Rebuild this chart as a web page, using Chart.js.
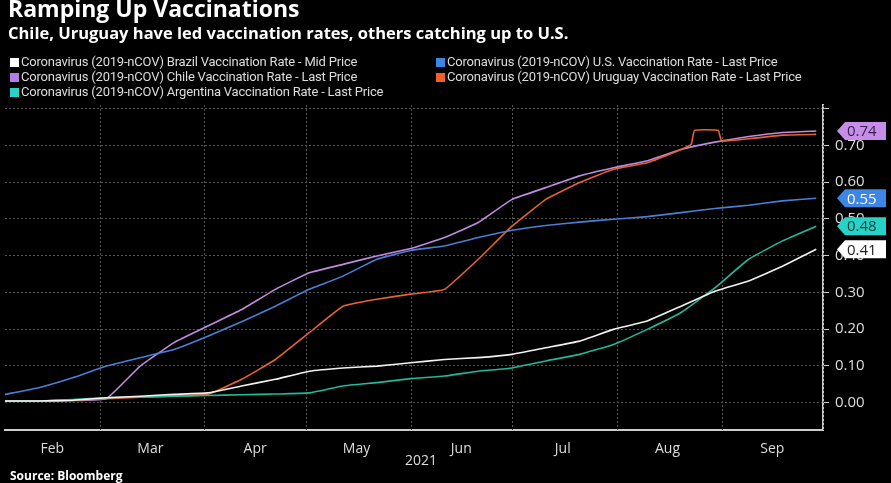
<!DOCTYPE html>
<html>
<head>
<meta charset="utf-8">
<script src="https://cdn.jsdelivr.net/npm/chart.js@4"></script>
<style>
  body { margin:0; background:#000; width:891px; height:483px; overflow:hidden; position:relative; font-family:"Open Sans", sans-serif; }
  #wrap { position:absolute; left:0; top:0; width:891px; height:483px; }
  .t1 { position:absolute; left:8px; top:-8px; color:#fff; font:bold 23px "Open Sans", sans-serif; }
  .t2 { position:absolute; left:8px; top:21px; color:#fff; font:bold 16.5px "Open Sans", sans-serif; }
  .lg { position:absolute; color:#ddd; font:13px "Liberation Sans Narrow", "Roboto", sans-serif; letter-spacing:-0.2px; white-space:nowrap; }
  .lg i { display:inline-block; width:9px; height:9px; margin-right:2px; vertical-align:-1px; }
  .yr { position:absolute; left:405px; top:450px; color:#ddd; font:14px "Open Sans", sans-serif; }
  .src { position:absolute; left:10px; top:467px; color:#fff; font:bold 12px "Open Sans", sans-serif; }
</style>
</head>
<body>
<div id="wrap"><canvas id="myChart" width="891" height="483"></canvas></div>
<div class="t1">Ramping Up Vaccinations</div>
<div class="t2">Chile, Uruguay have led vaccination rates, others catching up to U.S.</div>
<div class="lg" style="left:10px;top:54px"><i style="background:#fff"></i>Coronavirus (2019-nCOV) Brazil Vaccination Rate - Mid Price</div>
<div class="lg" style="left:436px;top:54px"><i style="background:#3d86e6"></i>Coronavirus (2019-nCOV) U.S. Vaccination Rate - Last Price</div>
<div class="lg" style="left:10px;top:69px"><i style="background:#b57ce6"></i>Coronavirus (2019-nCOV) Chile Vaccination Rate - Last Price</div>
<div class="lg" style="left:436px;top:69px"><i style="background:#f0602a"></i>Coronavirus (2019-nCOV) Uruguay Vaccination Rate - Last Price</div>
<div class="lg" style="left:10px;top:84px"><i style="background:#27d3c8"></i>Coronavirus (2019-nCOV) Argentina Vaccination Rate - Last Price</div>
<div class="yr">2021</div>
<div class="src">Source: Bloomberg</div>
<script>
// days since Feb 1 2021
var days = [0,10,20,30,40,50,60,70,80,90,100,110,120,130,140,150,160,170,180,190,200,210,220,230,240];
var usRate =       [0.022,0.040,0.067,0.099,0.122,0.144,0.180,0.220,0.262,0.308,0.344,0.390,0.414,0.426,0.449,0.469,0.482,0.491,0.499,0.506,0.517,0.528,0.537,0.549,0.556];
var chileRate =    [0.004,0.004,0.005,0.010,0.099,0.163,0.208,0.253,0.308,0.353,0.376,0.399,0.419,0.449,0.490,0.553,0.585,0.617,0.639,0.658,0.689,0.709,0.724,0.735,0.739];
var brazilRate =   [0.004,0.004,0.006,0.013,0.017,0.022,0.026,0.045,0.063,0.085,0.094,0.099,0.108,0.117,0.122,0.131,0.149,0.167,0.199,0.222,0.262,0.303,0.331,0.371,0.417];
var argentinaRate =[0.004,0.004,0.008,0.013,0.015,0.017,0.019,0.021,0.023,0.026,0.045,0.054,0.065,0.072,0.085,0.094,0.113,0.131,0.158,0.199,0.245,0.312,0.390,0.440,0.480];
var uruguayDays = [0,10,20,30,40,50,60,70,80,90,100,110,120,130,140,150,160,170,180,190,200,203,204,211,212,220,230,240];
var uruguayRate = [0.004,0.004,0.006,0.010,0.014,0.018,0.022,0.063,0.117,0.190,0.262,0.281,0.295,0.308,0.390,0.480,0.553,0.599,0.635,0.653,0.689,0.703,0.741,0.741,0.712,0.718,0.728,0.730];
var monthStarts = [28,59,89,120,150,181,212,242];
var monthMids = [14,43,74,104,135,165,196,227];
var monthNames = ["Feb","Mar","Apr","May","Jun","Jul","Aug","Sep"];
var yTicks = [0,0.1,0.2,0.3,0.4,0.5,0.6,0.7,0.8];

function pts(xs, ys) { return xs.map(function (x, i) { return {x: x, y: ys[i]}; }); }

var tags = [
  {val: chileRate[chileRate.length-1], bg: "#c68ee8", fg: "#3a2050", txt: "0.74"},
  {val: usRate[usRate.length-1], bg: "#3d86e6", fg: "#fff", txt: "0.55"},
  {val: argentinaRate[argentinaRate.length-1], bg: "#27d3c8", fg: "#0d3d3a", txt: "0.48"},
  {val: brazilRate[brazilRate.length-1], bg: "#fff", fg: "#222", txt: "0.41"}
];

var extras = {
  id: "extras",
  beforeDatasetsDraw: function (chart) {
    var c = chart.ctx, a = chart.chartArea, xs = chart.scales.x;
    c.save();
    c.strokeStyle = "#555"; c.lineWidth = 1; c.setLineDash([2,2]);
    monthStarts.forEach(function (d) {
      var px = Math.round(xs.getPixelForValue(d)) + 0.5;
      c.beginPath(); c.moveTo(px, a.top); c.lineTo(px, a.bottom); c.stroke();
    });
    c.restore();
  },
  afterDraw: function (chart) {
    var c = chart.ctx, ys = chart.scales.y;
    c.save();
    c.font = "15px 'Open Sans', sans-serif";
    c.textBaseline = "middle";
    tags.forEach(function (t) {
      var py = ys.getPixelForValue(t.val);
      c.fillStyle = t.bg;
      c.beginPath();
      c.moveTo(837, py); c.lineTo(845, py - 9); c.lineTo(886, py - 9);
      c.lineTo(886, py + 9); c.lineTo(845, py + 9); c.closePath(); c.fill();
      c.fillStyle = t.fg;
      c.fillText(t.txt, 847, py + 1);
    });
    c.restore();
  }
};

new Chart("myChart", {
  type: "line",
  data: {
    datasets: [
      {data: pts(days, brazilRate), borderColor: "#f2f2f2"},
      {data: pts(days, argentinaRate), borderColor: "#22b89a"},
      {data: pts(days, usRate), borderColor: "#4a7fd8"},
      {data: pts(uruguayDays, uruguayRate), borderColor: "#e8632f"},
      {data: pts(days, chileRate), borderColor: "#c08be0"}
    ]
  },
  options: {
    responsive: false,
    animation: false,
    layout: {padding: {left: 5, top: 105, right: 5, bottom: 0}},
    elements: {point: {radius: 0}, line: {borderWidth: 1.6, tension: 0.1}},
    plugins: {legend: {display: false}, tooltip: {enabled: false}},
    scales: {
      x: {
        type: "linear", min: 0, max: 242,
        afterBuildTicks: function (s) { s.ticks = monthMids.map(function (v) { return {value: v}; }); },
        ticks: {color: "#ddd", font: {size: 14, family: "Open Sans"}, maxRotation: 0, autoSkip: false,
          callback: function (v) { return monthNames[monthMids.indexOf(v)]; }},
        grid: {display: false},
        border: {color: "#ccc", width: 2},
        afterFit: function (s) { s.height = 53; }
      },
      y: {
        position: "right", min: -0.075, max: 0.81,
        afterBuildTicks: function (s) { s.ticks = yTicks.map(function (v) { return {value: v}; }); },
        ticks: {color: "#ddd", font: {size: 15, family: "Open Sans"}, padding: 6,
          callback: function (v) { return v > 0.75 ? "" : v.toFixed(2); }},
        grid: {color: "#555", tickColor: "#ccc", tickLength: 6, tickBorderDash: [], borderDash: [2,2]},
        border: {color: "#ccc", width: 2, dash: [2,2]},
        afterFit: function (s) { s.width = 63; }
      }
    }
  },
  plugins: [extras]
});
</script>
</body>
</html>
